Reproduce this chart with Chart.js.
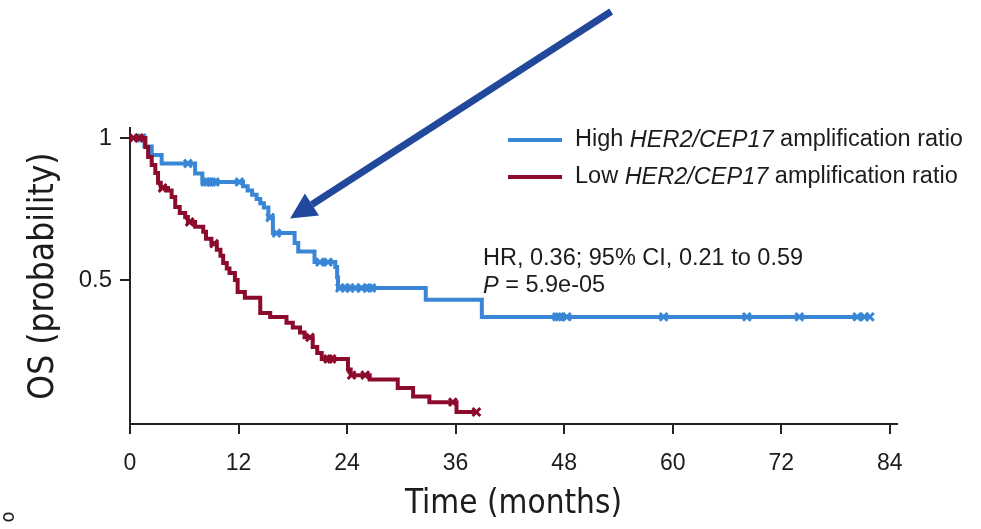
<!DOCTYPE html>
<html>
<head>
<meta charset="utf-8">
<script src="https://cdn.jsdelivr.net/npm/chart.js@4.4.1/dist/chart.umd.min.js"></script>
<style>
  html, body { margin: 0; padding: 0; background: #fff; }
  #wrap { width: 981px; height: 529px; position: relative; }
</style>
</head>
<body>
<div id="wrap"><canvas id="kmChart" width="981" height="529"></canvas></div>
<script>
// Kaplan-Meier steps (months, survival after the event)
const highTimes = [0, 1.6, 2.4, 3.5, 7.2, 8.0, 12.5, 13.0, 13.5, 14.0, 14.4, 14.8, 15.3, 15.8, 18.2, 18.6, 20.4, 22.7, 22.9, 23.0, 32.7, 38.9, 81.8];
const highSurv  = [1, 0.97, 0.94, 0.91, 0.875, 0.845, 0.83, 0.815, 0.80, 0.785, 0.77, 0.755, 0.72, 0.665, 0.63, 0.60, 0.563, 0.546, 0.51, 0.472, 0.43, 0.37, 0.37];
const highCensored = [1.3, 6.4, 8.3, 8.6, 9.0, 9.4, 12.1, 15.5, 16.2, 21.0, 21.9, 23.2, 23.8, 24.3, 24.9, 25.6, 26.3, 26.7, 47.2, 47.5, 48.3, 59.0, 68.2, 74.0, 80.4, 81.2, 81.8];

const lowTimes = [0, 1.7, 2.0, 2.4, 2.8, 3.1, 3.4, 4.2, 4.6, 5.0, 5.5, 6.1, 6.4, 7.2, 8.1, 8.4, 9.0, 9.6, 10.0, 10.3, 10.7, 11.0, 11.6, 11.9, 12.7, 14.4, 15.5, 17.3, 18.0, 18.8, 19.3, 20.2, 20.7, 21.2, 24.1, 24.4, 26.5, 29.6, 31.3, 33.1, 36.1, 38.3];
const lowSurv  = [1, 0.968, 0.933, 0.905, 0.877, 0.842, 0.824, 0.815, 0.792, 0.757, 0.736, 0.722, 0.704, 0.687, 0.67, 0.645, 0.628, 0.606, 0.585, 0.56, 0.54, 0.525, 0.5, 0.458, 0.437, 0.384, 0.37, 0.349, 0.333, 0.315, 0.298, 0.264, 0.243, 0.222, 0.185, 0.165, 0.15, 0.12, 0.09, 0.07, 0.035, 0.035];
const lowCensored = [0.4, 1.0, 3.6, 6.6, 9.3, 19.9, 21.9, 22.3, 24.5, 26.0, 35.7, 38.3];

const xTickValues = [0, 12, 24, 36, 48, 60, 72, 84];
const yTickValues = [0.5, 1];

const seriesLabels = ["High", "Low"];
const blue = "#3a86d6";
const red = "#8c0b2c";

function stepPoints(times, surv) {
    return times.map((t, i) => ({ x: t, y: surv[i] }));
}

// survival value of the step curve at time t
function survAt(times, surv, t) {
    let s = surv[0];
    for (let i = 0; i < times.length; i++) {
        if (times[i] <= t) s = surv[i];
    }
    return s;
}

function censorPoints(times, surv, cens) {
    return cens.map(t => ({ x: t, y: survAt(times, surv, t) }));
}

const textColor = "#1c1c1c";
const sans = "'Liberation Sans', Arial, sans-serif";
const condensed = "'DejaVu Sans Condensed', 'DejaVu Sans', sans-serif";

const overlayPlugin = {
    id: "overlay",
    afterDraw(chart) {
        const ctx = chart.ctx;
        const xs = chart.scales.x, ys = chart.scales.y;
        ctx.save();

        // legend
        const legendRows = [
            { color: blue, y: 140, first: "High " },
            { color: red, y: 177, first: "Low " }
        ];
        legendRows.forEach(row => {
            ctx.strokeStyle = row.color;
            ctx.lineWidth = 4;
            ctx.beginPath();
            ctx.moveTo(508, row.y);
            ctx.lineTo(562, row.y);
            ctx.stroke();
            ctx.fillStyle = textColor;
            ctx.textBaseline = "middle";
            let x = 575;
            ctx.font = "23.5px " + sans;
            ctx.fillText(row.first, x, row.y);
            x += ctx.measureText(row.first).width;
            ctx.font = "italic 23.5px " + sans;
            ctx.fillText("HER2/CEP17", x, row.y);
            x += ctx.measureText("HER2/CEP17").width;
            ctx.font = "23.5px " + sans;
            ctx.fillText(" amplification ratio", x, row.y);
        });

        // hazard ratio note
        ctx.font = "23.5px " + sans;
        ctx.fillText("HR, 0.36; 95% CI, 0.21 to 0.59", 483, 259);
        ctx.font = "italic 23.5px " + sans;
        ctx.fillText("P", 483, 286);
        const pw = ctx.measureText("P").width;
        ctx.font = "23.5px " + sans;
        ctx.fillText(" = 5.9e-05", 483 + pw, 286);

        // arrow pointing at the blue curve
        const tipX = xs.getPixelForValue(17.7), tipY = ys.getPixelForValue(0.716);
        const tailX = xs.getPixelForValue(53.2), tailY = ys.getPixelForValue(1.445);
        const ang = Math.atan2(tipY - tailY, tipX - tailX);
        const headLen = 26, headW = 13;
        const baseX = tipX - headLen * Math.cos(ang), baseY = tipY - headLen * Math.sin(ang);
        ctx.strokeStyle = "#22489b";
        ctx.fillStyle = "#22489b";
        ctx.lineWidth = 7;
        ctx.beginPath();
        ctx.moveTo(tailX, tailY);
        ctx.lineTo(baseX, baseY);
        ctx.stroke();
        ctx.beginPath();
        ctx.moveTo(tipX, tipY);
        ctx.lineTo(baseX + headW * Math.sin(ang), baseY - headW * Math.cos(ang));
        ctx.lineTo(baseX - headW * Math.sin(ang), baseY + headW * Math.cos(ang));
        ctx.closePath();
        ctx.fill();

        // stray cropped letter at the bottom left
        ctx.translate(9, 517);
        ctx.rotate(-Math.PI / 2);
        ctx.fillStyle = textColor;
        ctx.font = "20px " + condensed;
        ctx.textAlign = "center";
        ctx.fillText("o", 0, 0);
        ctx.restore();
    }
};

const ctx = document.getElementById("kmChart").getContext("2d");
new Chart(ctx, {
    type: "line",
    data: {
        datasets: [
            {
                label: seriesLabels[1],
                data: stepPoints(lowTimes, lowSurv),
                borderColor: red,
                borderWidth: 4,
                stepped: true,
                pointRadius: 0,
                clip: false
            },
            {
                label: seriesLabels[1] + " censored",
                data: censorPoints(lowTimes, lowSurv, lowCensored),
                showLine: false,
                pointStyle: "crossRot",
                pointRadius: 5.5,
                pointBorderWidth: 3,
                pointBorderColor: red,
                clip: false
            },
            {
                label: seriesLabels[0],
                data: stepPoints(highTimes, highSurv),
                borderColor: blue,
                borderWidth: 4,
                stepped: true,
                pointRadius: 0,
                clip: false
            },
            {
                label: seriesLabels[0] + " censored",
                data: censorPoints(highTimes, highSurv, highCensored),
                showLine: false,
                pointStyle: "crossRot",
                pointRadius: 5.5,
                pointBorderWidth: 3,
                pointBorderColor: blue,
                clip: false
            }
        ]
    },
    options: {
        responsive: false,
        animation: false,
        layout: { padding: { top: 128, right: 84, bottom: 0, left: 0 } },
        plugins: {
            legend: { display: false },
            tooltip: { enabled: false }
        },
        scales: {
            x: {
                type: "linear",
                min: 0,
                max: 84.8,
                afterBuildTicks: s => { s.ticks = xTickValues.map(v => ({ value: v })); },
                afterFit: s => { s.height = 105; },
                grid: { drawOnChartArea: false, drawTicks: true, tickLength: 10, color: "#222", lineWidth: 2 },
                border: { display: true, color: "#222", width: 2 },
                ticks: {
                    color: textColor,
                    padding: 16,
                    maxRotation: 0,
                    font: { family: sans, size: 23 }
                },
                title: {
                    display: true,
                    text: "Time (months)",
                    color: textColor,
                    padding: { top: 0, bottom: 5 },
                    font: { family: condensed, size: 33 }
                }
            },
            y: {
                type: "linear",
                min: -0.007,
                max: 1.035,
                afterBuildTicks: s => { s.ticks = yTickValues.map(v => ({ value: v })); },
                afterFit: s => { s.width = 130; },
                grid: { drawOnChartArea: false, drawTicks: true, tickLength: 10, color: "#222", lineWidth: 2 },
                border: { display: true, color: "#222", width: 2 },
                ticks: {
                    color: textColor,
                    padding: 8,
                    callback: v => String(v),
                    font: { family: sans, size: 24 }
                },
                title: {
                    display: true,
                    text: "OS (probability)",
                    color: textColor,
                    padding: { top: 23, bottom: 0 },
                    font: { family: condensed, size: 35 }
                }
            }
        }
    },
    plugins: [overlayPlugin]
});
</script>
</body>
</html>
